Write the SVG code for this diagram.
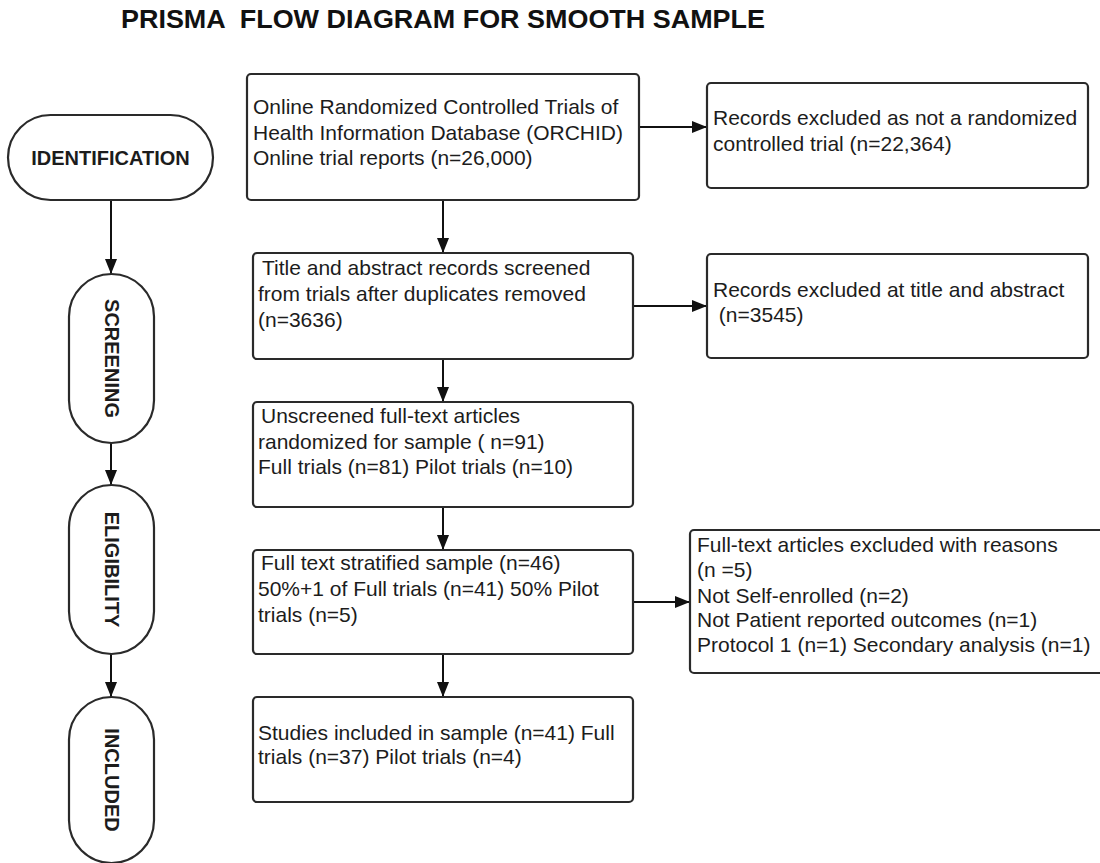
<svg xmlns="http://www.w3.org/2000/svg" width="1100" height="863" viewBox="0 0 1100 863">
<defs>
<marker id="ah" markerWidth="15" markerHeight="12" refX="15" refY="6" orient="auto" markerUnits="userSpaceOnUse">
<path d="M0,0 L15,6 L0,12 z" fill="#111"/>
</marker>
<style>
.box{fill:#fff;stroke:#2a2a2a;stroke-width:2.2}
.pill{fill:#fff;stroke:#2a2a2a;stroke-width:2.2}
.t{font-family:"Liberation Sans",Arial,sans-serif;font-size:21px;fill:#1c1c1c}
.p{font-family:"Liberation Sans",Arial,sans-serif;font-size:20px;font-weight:bold;fill:#1c1c1c;text-anchor:middle;dominant-baseline:central}
.title{font-family:"Liberation Sans",Arial,sans-serif;font-size:26px;font-weight:bold;fill:#111}
.c{stroke:#111;stroke-width:2;fill:none;marker-end:url(#ah)}
</style>
</defs>
<rect width="1100" height="863" fill="#fff"/>
<text class="title" x="121" y="28" textLength="644" lengthAdjust="spacingAndGlyphs" xml:space="preserve">PRISMA  FLOW DIAGRAM FOR SMOOTH SAMPLE</text>

<g id="connectors">
<line class="c" x1="111" y1="200" x2="111" y2="274"/>
<line class="c" x1="111" y1="443" x2="111" y2="485"/>
<line class="c" x1="111" y1="654" x2="111" y2="697"/>
<line class="c" x1="639" y1="127" x2="707" y2="127"/>
<line class="c" x1="443" y1="200" x2="443" y2="253"/>
<line class="c" x1="633" y1="306" x2="707" y2="306"/>
<line class="c" x1="443" y1="359" x2="443" y2="402"/>
<line class="c" x1="443" y1="507" x2="443" y2="550"/>
<line class="c" x1="633" y1="602" x2="690" y2="602"/>
<line class="c" x1="443" y1="654" x2="443" y2="697"/>
</g>

<g id="identification">
<rect class="pill" x="8" y="115" width="205" height="85" rx="42.5"/>
<text class="p" x="110.5" y="157.5">IDENTIFICATION</text>
</g>
<g id="screening">
<rect class="pill" x="69" y="274" width="85" height="169" rx="42.5"/>
<text class="p" transform="translate(111.5,358.5) rotate(90)" x="0" y="0">SCREENING</text>
</g>
<g id="eligibility">
<rect class="pill" x="69" y="485" width="85" height="169" rx="42.5"/>
<text class="p" transform="translate(111.5,569.5) rotate(90)" x="0" y="0">ELIGIBILITY</text>
</g>
<g id="included">
<rect class="pill" x="69" y="697" width="85" height="166" rx="42.5"/>
<text class="p" transform="translate(111.5,780) rotate(90)" x="0" y="0">INCLUDED</text>
</g>

<g id="orchid">
<rect class="box" x="247" y="74" width="392" height="126" rx="4"/>
<text class="t" x="253" y="114">Online Randomized Controlled Trials of</text>
<text class="t" x="253" y="140">Health Information Database (ORCHID)</text>
<text class="t" x="253" y="165">Online trial reports (n=26,000)</text>
</g>
<g id="excluded-rct">
<rect class="box" x="707" y="83" width="381" height="105" rx="4"/>
<text class="t" x="713" y="125">Records excluded as not a randomized</text>
<text class="t" x="713" y="151">controlled trial (n=22,364)</text>
</g>
<g id="screened">
<rect class="box" x="253" y="253" width="380" height="106" rx="4"/>
<text class="t" x="262" y="275">Title and abstract records screened</text>
<text class="t" x="258" y="301">from trials after duplicates removed</text>
<text class="t" x="258" y="327">(n=3636)</text>
</g>
<g id="excluded-title">
<rect class="box" x="707" y="254" width="381" height="104" rx="4"/>
<text class="t" x="713" y="297">Records excluded at title and abstract</text>
<text class="t" x="713" y="322" xml:space="preserve"> (n=3545)</text>
</g>
<g id="unscreened">
<rect class="box" x="253" y="402" width="380" height="105" rx="4"/>
<text class="t" x="261" y="423">Unscreened full-text articles</text>
<text class="t" x="258" y="449">randomized for sample ( n=91)</text>
<text class="t" x="258" y="474">Full trials (n=81) Pilot trials (n=10)</text>
</g>
<g id="stratified">
<rect class="box" x="253" y="550" width="380" height="104" rx="4"/>
<text class="t" x="261" y="570">Full text stratified sample (n=46)</text>
<text class="t" x="258" y="596">50%+1 of Full trials (n=41) 50% Pilot</text>
<text class="t" x="258" y="622">trials (n=5)</text>
</g>
<g id="excluded-fulltext">
<rect class="box" x="690" y="530" width="414" height="143" rx="4"/>
<text class="t" x="697" y="552">Full-text articles excluded with reasons</text>
<text class="t" x="697" y="577">(n =5)</text>
<text class="t" x="697" y="603">Not Self-enrolled (n=2)</text>
<text class="t" x="697" y="627">Not Patient reported outcomes (n=1)</text>
<text class="t" x="697" y="652">Protocol 1 (n=1) Secondary analysis (n=1)</text>
</g>
<g id="included-studies">
<rect class="box" x="253" y="697" width="380" height="105" rx="4"/>
<text class="t" x="258" y="740">Studies included in sample (n=41) Full</text>
<text class="t" x="258" y="764">trials (n=37) Pilot trials (n=4)</text>
</g>
</svg>
